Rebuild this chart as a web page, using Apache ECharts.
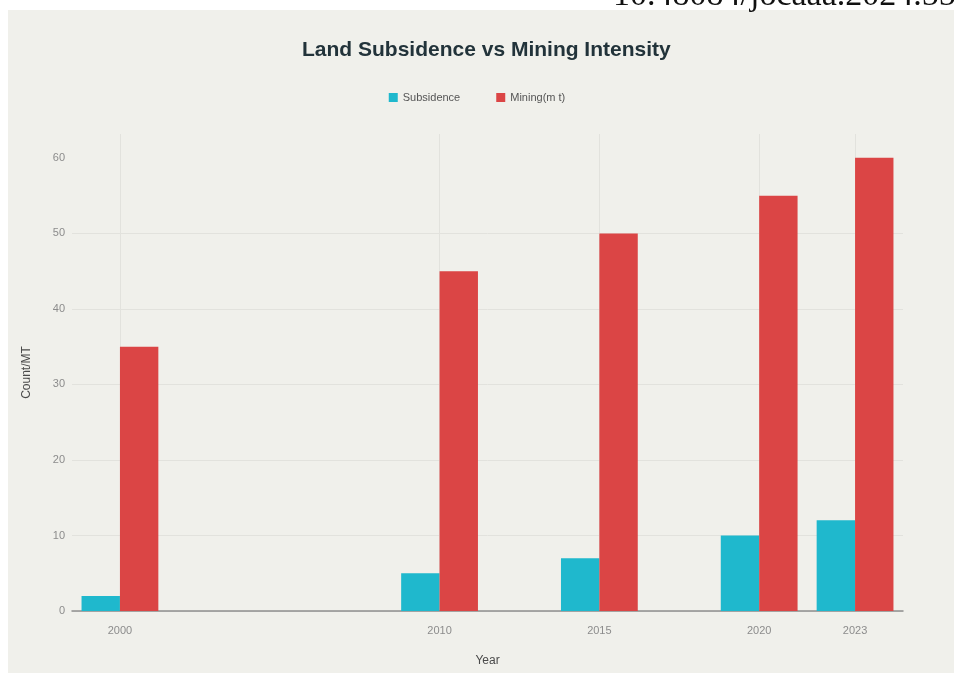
<!DOCTYPE html>
<html>
<head>
<meta charset="utf-8">
<script src="https://cdn.jsdelivr.net/npm/echarts@6/dist/echarts.min.js"></script>
<style>
  html, body { margin: 0; padding: 0; background: #ffffff; width: 954px; height: 673px; overflow: hidden; }
  #panel { position: absolute; left: 8px; top: 10px; width: 946px; height: 663px; background: #f0f0eb; }
  #chart { position: absolute; left: 0; top: 0; width: 954px; height: 673px; }
</style>
</head>
<body>
<div id="panel"></div>
<div id="chart"></div>
<script>
// Survey years and measured values
const years = [2000, 2010, 2015, 2020, 2023];
const subsidence = [2, 5, 7, 10, 12];
const mining = [35, 45, 50, 55, 60];
const yTicks = [0, 10, 20, 30, 40, 50, 60];

const gridColor = '#e2e2dd';
const tickText = '#8c8c8c';
const sans = '"Liberation Sans", Arial, sans-serif';

const chart = echarts.init(document.getElementById('chart'), null, { renderer: 'canvas' });

chart.setOption({
  backgroundColor: 'transparent',
  animation: false,
  title: {
    text: 'Land Subsidence vs Mining Intensity',
    left: 297,
    top: 35,
    textStyle: { fontFamily: sans, fontSize: 21, fontWeight: 'bold', color: '#22333a' }
  },
  graphic: [{
    type: 'text',
    left: 613,
    top: -21,
    style: {
      text: '10.48084/jocaaa.2024.55',
      font: '34px "Liberation Serif", "DejaVu Serif", serif',
      fill: '#111111'
    }
  }],
  legend: {
    top: 87,
    left: 'center',
    itemWidth: 9,
    itemHeight: 9,
    itemGap: 36,
    icon: 'rect',
    textStyle: { fontFamily: sans, fontSize: 11, color: '#555555' },
    data: ['Subsidence', 'Mining(m t)']
  },
  grid: { left: 72, right: 51, top: 134, bottom: 62, containLabel: false },
  xAxis: {
    type: 'value',
    min: 1998.5,
    max: 2024.5,
    name: 'Year',
    nameLocation: 'middle',
    nameGap: 44,
    nameTextStyle: { fontFamily: sans, fontSize: 12, color: '#4a4a4a' },
    axisLine: { show: true, lineStyle: { color: '#8f8f8f', width: 1.5 } },
    axisTick: { show: false, customValues: years },
    axisLabel: {
      customValues: years,
      formatter: v => String(v),
      margin: 14,
      fontFamily: sans, fontSize: 11, color: tickText
    },
    splitLine: { show: true, lineStyle: { color: gridColor, width: 1 } }
  },
  yAxis: {
    type: 'value',
    min: 0,
    max: 63.16,
    name: 'Count/MT',
    nameLocation: 'middle',
    nameGap: 39,
    nameTextStyle: { fontFamily: sans, fontSize: 12, color: '#4a4a4a' },
    axisLine: { show: false },
    axisTick: { show: false, customValues: yTicks },
    axisLabel: {
      customValues: yTicks,
      margin: 7,
      fontFamily: sans, fontSize: 11, color: tickText
    },
    splitLine: { show: true, showMaxLine: false, lineStyle: { color: gridColor, width: 1 } }
  },
  series: [
    {
      name: 'Subsidence',
      type: 'bar',
      barWidth: 38.4,
      barGap: '0%',
      itemStyle: { color: '#1fb8cd' },
      data: years.map((y, i) => [y, subsidence[i]])
    },
    {
      name: 'Mining(m t)',
      type: 'bar',
      barWidth: 38.4,
      barGap: '0%',
      itemStyle: { color: '#db4545' },
      data: years.map((y, i) => [y, mining[i]])
    }
  ]
});
</script>
</body>
</html>
